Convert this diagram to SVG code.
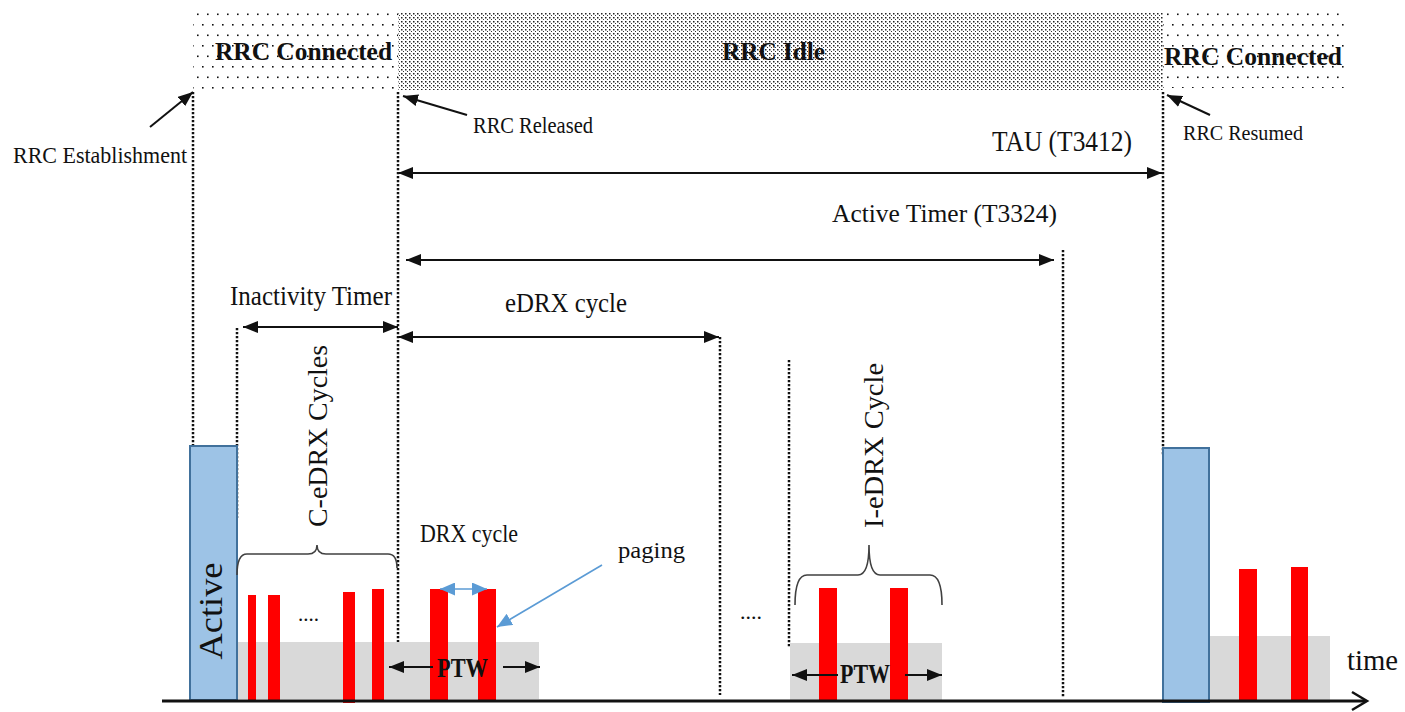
<svg xmlns="http://www.w3.org/2000/svg" width="1405" height="712" viewBox="0 0 1405 712">
<style>
text{font-family:"Liberation Serif","Times New Roman",serif;fill:#111}
.title{font-size:25px;font-weight:bold}
.lbl{font-size:24px}
.big{font-size:28px}
.dot{fill:none;stroke:#111;stroke-width:2.5;stroke-dasharray:2.2 1.8}
.conn{fill:none;stroke:#111;stroke-width:2}
.red{fill:#FF0000}
.gray{fill:#D9D9D9}
.act{fill:#9DC3E6;stroke:#41719C;stroke-width:2}
.brace{fill:none;stroke:#404040;stroke-width:1.6}
.blue{fill:none;stroke:#5B9BD5;stroke-width:1.6}
</style>
<defs>
<pattern id="sparse" width="10" height="21" patternUnits="userSpaceOnUse">
<rect x="2" y="3" width="1.6" height="1.6" fill="#111"/>
<rect x="7" y="13.5" width="1.6" height="1.6" fill="#111"/>
</pattern>
<pattern id="dense" width="4" height="4" patternUnits="userSpaceOnUse">
<rect x="1" y="1" width="1.5" height="1.5" fill="#222"/>
<rect x="3" y="3" width="1.5" height="1.5" fill="#333"/>
</pattern>
<marker id="ah" viewBox="0 0 15 12" refX="15" refY="6" markerWidth="15" markerHeight="12" markerUnits="userSpaceOnUse" orient="auto-start-reverse">
<path d="M0,0 L15,6 L0,12 Z" fill="#111"/>
</marker>
<marker id="bh" viewBox="0 0 15 13" refX="15" refY="6.5" markerWidth="15" markerHeight="13" markerUnits="userSpaceOnUse" orient="auto-start-reverse">
<path d="M0,0 L15,6.5 L0,13 Z" fill="#5B9BD5"/>
</marker>
</defs>
<rect width="1405" height="712" fill="#fff"/>

<g id="band-connected-left">
<rect x="193" y="12" width="205" height="83" fill="url(#sparse)"/>
<text class="title" x="215" y="60" textLength="177" lengthAdjust="spacingAndGlyphs">RRC Connected</text>
</g>
<g id="band-idle">
<rect x="398" y="12" width="765" height="78" fill="url(#dense)"/>
<text class="title" x="722" y="60" textLength="103" lengthAdjust="spacingAndGlyphs">RRC Idle</text>
</g>
<g id="band-connected-right">
<rect x="1163" y="8" width="182" height="80" fill="url(#sparse)"/>
<text class="title" x="1164" y="65" textLength="178" lengthAdjust="spacingAndGlyphs">RRC Connected</text>
</g>

<g id="dotted-lines">
<line class="dot" x1="193" y1="92" x2="193" y2="447"/>
<line class="dot" x1="398" y1="92" x2="398" y2="697"/>
<line class="dot" x1="1163" y1="92" x2="1163" y2="455"/>
<line class="dot" x1="237" y1="328" x2="237" y2="518"/>
<line class="dot" x1="720" y1="337" x2="720" y2="695"/>
<line class="dot" x1="789" y1="360" x2="789" y2="647"/>
<line class="dot" x1="1063" y1="250" x2="1063" y2="697"/>
</g>

<g id="gray-windows">
<rect class="gray" x="237" y="642" width="302" height="57"/>
<rect class="gray" x="790" y="643" width="152" height="58"/>
<rect class="gray" x="1209" y="636" width="121" height="67"/>
</g>

<g id="active-left">
<rect class="act" x="190" y="446" width="47" height="254"/>
<text transform="translate(222,611) rotate(-90)" text-anchor="middle" style="font-size:34px" textLength="97" lengthAdjust="spacingAndGlyphs">Active</text>
</g>
<g id="active-right">
<rect class="act" x="1163" y="448" width="46" height="254"/>
</g>

<g id="paging-bars">
<rect class="red" x="248" y="595" width="8" height="105"/>
<rect class="red" x="268" y="595" width="12" height="105"/>
<rect class="red" x="343" y="592" width="12" height="111"/>
<rect class="red" x="372" y="589" width="12" height="111"/>
<rect class="red" x="430" y="589" width="18" height="111"/>
<rect class="red" x="478" y="589" width="18" height="111"/>
<rect class="red" x="819" y="588" width="18" height="112"/>
<rect class="red" x="890" y="588" width="18" height="112"/>
<rect class="red" x="1239" y="569" width="18" height="132"/>
<rect class="red" x="1291" y="567" width="17" height="133"/>
</g>

<g id="labels">
<text class="lbl" x="13" y="163" textLength="174" lengthAdjust="spacingAndGlyphs">RRC Establishment</text>
<text class="lbl" x="473" y="133" textLength="120" lengthAdjust="spacingAndGlyphs">RRC Released</text>
<text class="lbl" x="1183" y="140" style="font-size:22px" textLength="120" lengthAdjust="spacingAndGlyphs">RRC Resumed</text>
<text class="big" x="992" y="151" style="font-size:29px" textLength="140" lengthAdjust="spacingAndGlyphs">TAU (T3412)</text>
<text class="lbl" x="832" y="222" style="font-size:26px" textLength="225" lengthAdjust="spacingAndGlyphs">Active Timer (T3324)</text>
<text class="big" x="230" y="305" textLength="162" lengthAdjust="spacingAndGlyphs">Inactivity Timer</text>
<text class="big" x="505" y="312" textLength="122" lengthAdjust="spacingAndGlyphs">eDRX cycle</text>
<text class="lbl" x="420" y="542" style="font-size:25px" textLength="98" lengthAdjust="spacingAndGlyphs">DRX cycle</text>
<text class="lbl" x="618" y="558" textLength="67" lengthAdjust="spacingAndGlyphs">paging</text>
<text transform="translate(327,436) rotate(-90)" text-anchor="middle" style="font-size:27px" textLength="182" lengthAdjust="spacingAndGlyphs">C-eDRX Cycles</text>
<text transform="translate(883,445.5) rotate(-90)" text-anchor="middle" style="font-size:27px" textLength="165" lengthAdjust="spacingAndGlyphs">I-eDRX Cycle</text>
<text x="298" y="621" style="font-size:20px" textLength="21" lengthAdjust="spacingAndGlyphs">....</text>
<text x="740" y="619" style="font-size:20px" textLength="22" lengthAdjust="spacingAndGlyphs">....</text>
<text x="1347" y="670" style="font-size:29px" textLength="51" lengthAdjust="spacingAndGlyphs">time</text>
</g>

<g id="braces">
<path class="brace" d="M237,575 Q237,554 247,554 L308,554 Q317,554 317,545 Q317,554 326,554 L388,554 Q397,554 397,568"/>
<path class="brace" d="M795,605 Q795,575 807,575 L858,575 Q869,575 869,545 Q869,575 880,575 L930,575 Q942,575 942,605"/>
</g>

<g id="ptw-left">
<text x="437" y="677" style="font-size:28px;font-weight:bold" textLength="51" lengthAdjust="spacingAndGlyphs">PTW</text>
</g>
<g id="ptw-right">
<text x="840" y="683" style="font-size:28px;font-weight:bold" textLength="50" lengthAdjust="spacingAndGlyphs">PTW</text>
</g>

<g id="connectors">
<line class="conn" x1="150" y1="127" x2="193" y2="92" marker-end="url(#ah)"/>
<line class="conn" x1="467" y1="115" x2="403" y2="96" marker-end="url(#ah)"/>
<line class="conn" x1="1210" y1="115" x2="1167" y2="95" marker-end="url(#ah)"/>
<line class="conn" x1="398" y1="173" x2="1162" y2="173" marker-start="url(#ah)" marker-end="url(#ah)"/>
<line class="conn" x1="406" y1="260" x2="1054" y2="260" marker-start="url(#ah)" marker-end="url(#ah)"/>
<line class="conn" x1="243" y1="327" x2="398" y2="327" marker-start="url(#ah)" marker-end="url(#ah)"/>
<line class="conn" x1="398" y1="337" x2="719" y2="337" marker-start="url(#ah)" marker-end="url(#ah)"/>
<line class="conn" x1="433" y1="667" x2="389" y2="667" marker-end="url(#ah)"/>
<line class="conn" x1="503" y1="667" x2="540" y2="667" marker-end="url(#ah)"/>
<line class="conn" x1="838" y1="675" x2="792" y2="675" marker-end="url(#ah)"/>
<line class="conn" x1="905" y1="675" x2="942" y2="675" marker-end="url(#ah)"/>
<line class="blue" x1="440" y1="589" x2="487" y2="589" marker-start="url(#bh)" marker-end="url(#bh)"/>
<line class="blue" x1="602" y1="565" x2="497" y2="627" marker-end="url(#bh)"/>
<line x1="162" y1="701" x2="1366" y2="701" stroke="#111" stroke-width="3"/>
<polyline points="1352,692 1367,701 1352,710" fill="none" stroke="#111" stroke-width="2.5"/>
</g>
</svg>
